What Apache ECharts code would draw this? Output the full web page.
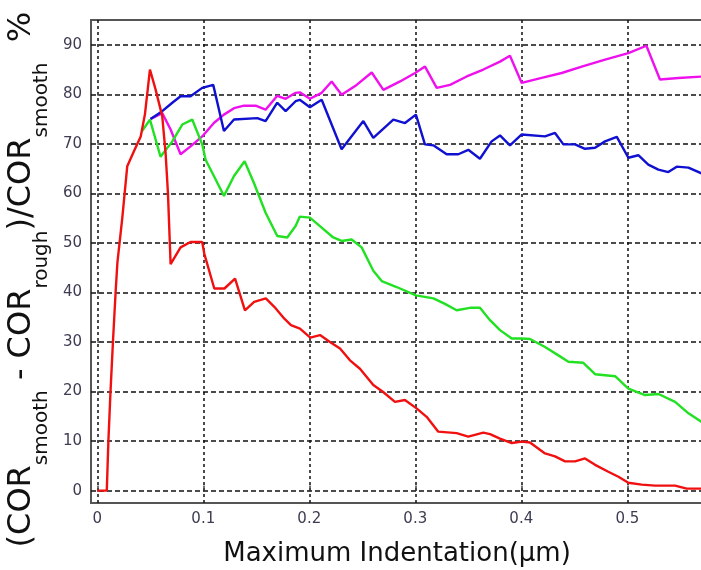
<!DOCTYPE html>
<html>
<head>
<meta charset="utf-8">
<script src="https://cdn.jsdelivr.net/npm/echarts@6/dist/echarts.min.js"></script>
<style>
  html, body { margin: 0; padding: 0; background: #fff; }
  #container { width: 701px; height: 570px; }
</style>
</head>
<body>
<div id="container"></div>
<script>
// tick values
const xTicks = [0, 0.1, 0.2, 0.3, 0.4, 0.5];
const yTicks = [0, 10, 20, 30, 40, 50, 60, 70, 80, 90];

// [indentation (um), difference (%)]
const redData = [
  [0, 0], [0.009, 0], [0.0105, 10], [0.0125, 20], [0.0148, 30], [0.0173, 40], [0.019, 46],
  [0.0236, 55], [0.0283, 65.5], [0.0346, 68.5], [0.041, 71.5], [0.045, 76], [0.0497, 85],
  [0.055, 81], [0.0613, 75.6], [0.0645, 68], [0.0667, 60], [0.0692, 45.7], [0.0786, 49.1],
  [0.088, 50.2], [0.099, 50.2], [0.101, 47.8], [0.1104, 40.8], [0.12, 40.8], [0.13, 42.8],
  [0.1393, 36.4], [0.148, 38.1], [0.159, 38.8], [0.167, 37.1], [0.1765, 34.7], [0.1827, 33.4],
  [0.1912, 32.7], [0.201, 30.9], [0.2101, 31.4], [0.2195, 30.0], [0.229, 28.7], [0.2384, 26.3],
  [0.2478, 24.6], [0.2604, 21.3], [0.2697, 19.9], [0.2808, 17.9], [0.2902, 18.3], [0.3012, 16.6],
  [0.3107, 14.9], [0.3217, 11.9], [0.339, 11.6], [0.35, 10.9], [0.3642, 11.7], [0.3705, 11.4],
  [0.3799, 10.5], [0.391, 9.6], [0.4004, 9.9], [0.4082, 9.7], [0.4224, 7.5], [0.4318, 6.9],
  [0.4413, 5.9], [0.4507, 5.9], [0.4601, 6.5], [0.4696, 5.2], [0.4821, 3.8], [0.4916, 2.8],
  [0.501, 1.6], [0.5136, 1.2], [0.5262, 1.0], [0.5451, 1.0], [0.556, 0.4], [0.5714, 0.4]
];
const greenData = [
  [0.042, 72.5], [0.0497, 74.9], [0.0597, 67.4], [0.0708, 70.5], [0.0802, 73.9], [0.0896, 74.9],
  [0.099, 69.9], [0.1022, 66.8], [0.11, 63.5], [0.1195, 59.5], [0.129, 63.5], [0.139, 66.5],
  [0.1478, 62.1], [0.1588, 56.1], [0.1698, 51.4], [0.1792, 51.1], [0.1871, 53.4], [0.191, 55.3],
  [0.2006, 55.1], [0.2117, 53.1], [0.2226, 51.1], [0.2305, 50.4], [0.2399, 50.7], [0.2494, 49.1],
  [0.2604, 44.4], [0.2683, 42.3], [0.2824, 41.1], [0.3006, 39.4], [0.3171, 38.8], [0.328, 37.7],
  [0.339, 36.4], [0.3516, 36.9], [0.361, 36.9], [0.3705, 34.4], [0.3799, 32.4], [0.391, 30.7],
  [0.4004, 30.7], [0.4082, 30.6], [0.4224, 29.0], [0.435, 27.3], [0.4444, 26.0], [0.4585, 25.8],
  [0.4696, 23.5], [0.4885, 23.1], [0.501, 20.6], [0.5168, 19.3], [0.5294, 19.5], [0.5451, 17.9],
  [0.5577, 15.6], [0.5714, 13.7]
];
const blueData = [
  [0.0503, 75.0], [0.0613, 76.6], [0.0708, 78.3], [0.0786, 79.6], [0.088, 79.6], [0.099, 81.3],
  [0.1094, 81.9], [0.1195, 72.6], [0.129, 74.9], [0.151, 75.2], [0.1588, 74.6], [0.1698, 78.3],
  [0.1777, 76.6], [0.1871, 78.6], [0.191, 78.9], [0.2006, 77.4], [0.2117, 78.9], [0.2305, 68.9],
  [0.251, 74.6], [0.2604, 71.2], [0.2793, 74.9], [0.2903, 74.2], [0.3006, 75.9], [0.3091, 69.9],
  [0.317, 69.7], [0.3296, 67.9], [0.3406, 67.9], [0.35, 68.8], [0.361, 67.0], [0.372, 70.5],
  [0.3799, 71.7], [0.3893, 69.7], [0.4004, 71.9], [0.4224, 71.5], [0.4318, 72.2], [0.4397, 69.9],
  [0.4507, 69.9], [0.4601, 69.0], [0.4696, 69.2], [0.479, 70.5], [0.4901, 71.4], [0.501, 67.2],
  [0.5104, 67.7], [0.5198, 65.8], [0.5293, 64.8], [0.5387, 64.3], [0.5466, 65.4], [0.5576, 65.2],
  [0.5714, 63.9]
];
const magentaData = [
  [0.05, 75.0], [0.0613, 76.2], [0.0692, 72.9], [0.0786, 67.9], [0.088, 69.5], [0.099, 71.5],
  [0.11, 74.2], [0.1195, 75.9], [0.129, 77.2], [0.1384, 77.7], [0.1494, 77.7], [0.1588, 76.9],
  [0.1698, 79.7], [0.1777, 79.1], [0.1871, 80.3], [0.191, 80.4], [0.2006, 79.1], [0.2117, 80.3],
  [0.2211, 82.6], [0.2305, 79.9], [0.2447, 81.9], [0.2589, 84.4], [0.2699, 80.9], [0.2856, 82.6],
  [0.2998, 84.3], [0.3092, 85.6], [0.3202, 81.3], [0.3328, 81.9], [0.3485, 83.6], [0.3642, 85.0],
  [0.3799, 86.6], [0.3893, 87.8], [0.4004, 82.3], [0.4192, 83.3], [0.4381, 84.3], [0.457, 85.6],
  [0.479, 87.0], [0.501, 88.3], [0.518, 89.8], [0.5308, 83.0], [0.5481, 83.3], [0.5714, 83.6]
];

const chart = echarts.init(document.getElementById('container'), null, { renderer: 'canvas' });
const font = 'DejaVu Sans';
const tickColor = '#3c3c52';

function lineSeries(name, data, color) {
  return {
    name: name,
    type: 'line',
    data: data,
    symbol: 'none',
    lineStyle: { color: color, width: 2.4 },
    itemStyle: { color: color }
  };
}

const option = {
  animation: false,
  backgroundColor: '#fff',
  grid: {
    left: 91, right: -2, top: 20, bottom: 67,
    outerBoundsMode: 'none',
    show: true, borderColor: '#555', borderWidth: 2
  },
  xAxis: {
    type: 'value',
    min: -0.0059,
    max: 0.5714,
    name: 'Maximum Indentation(μm)',
    nameLocation: 'middle',
    nameGap: 38,
    nameTextStyle: { fontFamily: font, fontSize: 26, color: '#111' },
    axisLine: { show: false },
    axisTick: { inside: true, length: 5, customValues: xTicks, lineStyle: { color: '#444', width: 1.5 } },
    axisLabel: { customValues: xTicks, margin: 9, fontFamily: font, fontSize: 15, color: tickColor },
    splitLine: { show: true, lineStyle: { color: '#111', width: 1.5, type: [3, 3] } }
  },
  yAxis: {
    type: 'value',
    min: -2.5,
    max: 95,
    name: '{m|(COR}{s|smooth}{m| - COR}{s|rough}{m|)/COR}{s|smooth}{m|  %}{g| }',
    nameLocation: 'middle',
    nameRotate: 90,
    nameGap: 38,
    nameTextStyle: {
      padding: [0, 36, 0, 0],
      rich: {
        m: { fontFamily: font, fontSize: 32, color: '#111', lineHeight: 34, verticalAlign: 'top' },
        s: { fontFamily: font, fontSize: 20, color: '#111', lineHeight: 20, verticalAlign: 'bottom' },
        g: { fontSize: 1, lineHeight: 46 }
      }
    },
    axisLine: { show: false },
    axisTick: { inside: true, length: 5, customValues: yTicks, lineStyle: { color: '#444', width: 1.5 } },
    axisLabel: { customValues: yTicks, margin: 9, fontFamily: font, fontSize: 15, color: tickColor },
    splitLine: { show: true, lineStyle: { color: '#111', width: 1.5, type: [5, 3] } }
  },
  series: [
    lineSeries('magenta', magentaData, '#ee11ee'),
    lineSeries('blue', blueData, '#1010d0'),
    lineSeries('green', greenData, '#22e022'),
    lineSeries('red', redData, '#f01010')
  ]
};

chart.setOption(option);
window.addEventListener('resize', function () {
  chart.resize();
});
</script>
</body>
</html>
